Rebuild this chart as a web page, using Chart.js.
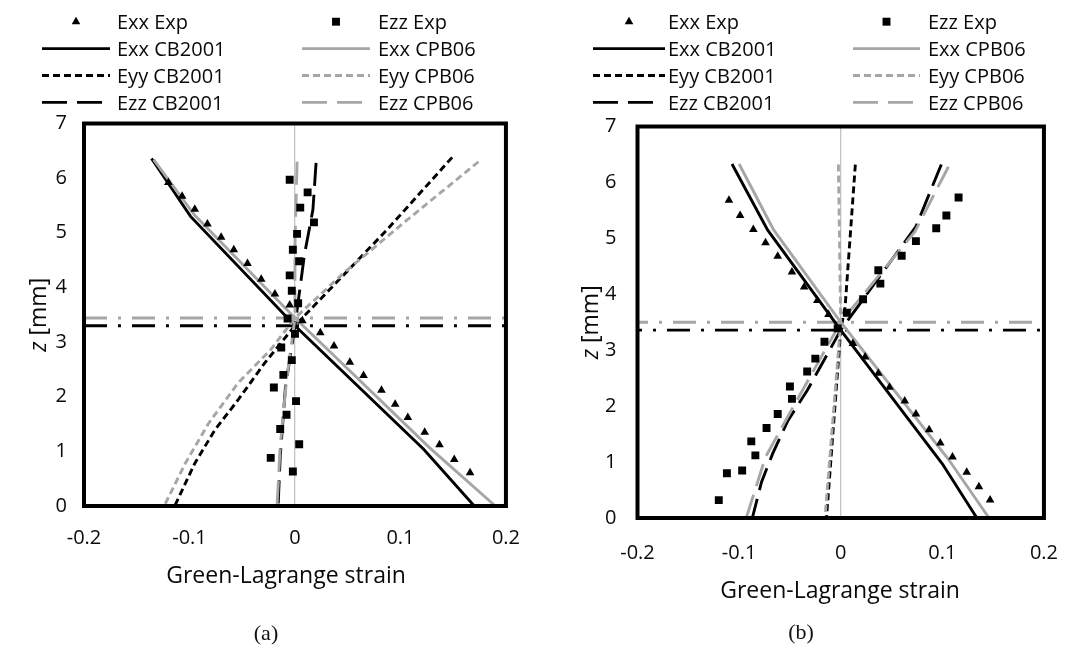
<!DOCTYPE html>
<html>
<head>
<meta charset="utf-8">
<script src="https://cdn.jsdelivr.net/npm/chart.js@4/dist/chart.umd.min.js"></script>
<style>
  html, body { margin: 0; padding: 0; background: #fff; }
  body { width: 1081px; height: 648px; position: relative; overflow: hidden; }
  canvas { position: absolute; top: 0; }
  #ca { left: 0; }
  #cb { left: 540px; }
  .cap { position: absolute; font-family: "Liberation Serif", serif; font-size: 22px; color: #111;
         transform: translate(-50%, -50%); white-space: nowrap; }
</style>
</head>
<body>
<canvas id="ca" width="540" height="648"></canvas>
<canvas id="cb" width="541" height="648"></canvas>
<div class="cap" style="left:266px; top:633px;">(a)</div>
<div class="cap" style="left:801px; top:632px;">(b)</div>
<script>
// ---- axis ticks and series names ----
const strainTicks = [-0.2, -0.1, 0, 0.1, 0.2];
const strainTickLabels = ['-0.2', '-0.1', '0', '0.1', '0.2'];
const depthTicks = [0, 1, 2, 3, 4, 5, 6, 7];
const seriesLabels = ['Exx Exp', 'Ezz Exp', 'Exx CB2001', 'Exx CPB06',
                      'Eyy CB2001', 'Eyy CPB06', 'Ezz CB2001', 'Ezz CPB06'];

// ---- panel (a): [strain, z in mm] ----
const aExxExp = [[-0.120,5.92],[-0.107,5.67],[-0.095,5.43],[-0.083,5.16],[-0.070,4.92],[-0.058,4.69],
  [-0.045,4.44],[-0.032,4.15],[-0.019,3.88],[-0.005,3.68],[0.007,3.39],[0.024,3.17],[0.037,2.93],
  [0.052,2.63],[0.065,2.39],[0.082,2.12],[0.095,1.86],[0.107,1.62],[0.123,1.35],[0.137,1.12],
  [0.151,0.85],[0.166,0.61]];
const aEzzExp = [[-0.005,5.97],[0.012,5.74],[0.005,5.46],[0.018,5.19],[0.002,4.98],[-0.002,4.69],
  [0.004,4.48],[-0.005,4.22],[-0.003,3.94],[0.003,3.71],[-0.007,3.43],[0.000,3.15],[-0.013,2.90],
  [-0.003,2.67],[-0.011,2.40],[-0.020,2.17],[0.001,1.92],[-0.008,1.67],[-0.014,1.41],[0.004,1.13],
  [-0.023,0.88],[-0.002,0.63]];
const aExxCB = [[-0.136,6.36],[-0.099,5.30],[0.000,3.30],[0.122,1.04],[0.170,0.00]];
const aExxCPB = [[-0.134,6.34],[-0.095,5.32],[0.000,3.44],[0.128,1.06],[0.190,0.00]];
const aEyyCB = [[0.149,6.38],[0.087,5.05],[0.000,3.30],[-0.029,2.61],[-0.054,1.94],[-0.076,1.39],
  [-0.095,0.78],[-0.114,0.00]];
const aEyyCPB = [[0.174,6.30],[0.106,5.23],[0.046,4.26],[0.000,3.44],[-0.023,2.86],[-0.054,2.25],
  [-0.082,1.51],[-0.104,0.78],[-0.124,0.00]];
const aEzzCB = [[0.020,6.28],[0.017,5.42],[0.009,4.60],[0.000,3.30],[-0.009,2.18],[-0.014,0.90],[-0.016,0.00]];
const aEzzCPB = [[0.002,6.30],[0.000,4.80],[0.000,3.44],[-0.008,2.30],[-0.014,1.10],[-0.017,0.00]];
const aNeutralAxis = [3.30, 3.44];   // CB2001, CPB06

// ---- panel (b) ----
const bExxExp = [[-0.110,5.68],[-0.099,5.41],[-0.086,5.16],[-0.074,4.92],[-0.062,4.68],[-0.048,4.40],
  [-0.036,4.13],[-0.023,3.89],[-0.012,3.64],[0.012,3.12],[0.024,2.88],[0.037,2.59],[0.048,2.34],
  [0.063,2.09],[0.074,1.86],[0.087,1.58],[0.098,1.34],[0.110,1.09],[0.124,0.82],[0.136,0.56],[0.147,0.32]];
const bEzzExp = [[0.116,5.73],[0.104,5.41],[0.094,5.18],[0.074,4.95],[0.060,4.69],[0.037,4.43],
  [0.039,4.19],[0.022,3.91],[0.006,3.67],[-0.003,3.39],[-0.016,3.15],[-0.025,2.85],[-0.033,2.62],
  [-0.050,2.35],[-0.048,2.13],[-0.062,1.86],[-0.073,1.61],[-0.088,1.37],[-0.084,1.12],[-0.097,0.85],
  [-0.112,0.80],[-0.120,0.32]];
const bExxCB = [[-0.107,6.33],[-0.072,5.15],[0.000,3.36],[0.100,0.97],[0.134,0.00]];
const bExxCPB = [[-0.100,6.33],[-0.066,5.15],[0.000,3.50],[0.106,1.05],[0.146,0.00]];
const bEyyCB = [[0.0144,6.32],[0.0043,3.77],[0.000,3.36],[-0.014,0.00]];
const bEyyCPB = [[-0.0023,6.32],[0.000,3.50],[-0.0155,0.00]];
const bEzzCB = [[0.099,6.32],[0.074,5.21],[0.000,3.36],[-0.033,2.28],[-0.052,1.74],[-0.067,1.15],
  [-0.078,0.64],[-0.087,0.00]];
const bEzzCPB = [[0.106,6.28],[0.073,5.12],[0.000,3.50],[-0.047,1.98],[-0.074,1.09],[-0.093,0.00]];
const bNeutralAxis = [3.36, 3.50];

// ---- styling ----
const FONT = '"Open Sans", sans-serif';
const INK = '#0a0a0a';
const BLACK = '#000';
const GRAY = '#a6a6a6';
const SHORT_DASH = [7, 4];
const LONG_DASH = [23, 9];
const LEGEND_LONG_DASH = [25, 10];
const DASH_DOT = [23, 11, 3, 11];
const LW = 2.9;
const CANVAS_H = 648;

const toPts = arr => arr.map(([x, y]) => ({ x, y }));

function markerSet(label, pts, style, r) {
  return { label, data: toPts(pts), showLine: false, pointStyle: style, pointRadius: r,
    pointBackgroundColor: BLACK, pointBorderColor: BLACK, pointBorderWidth: 0, order: 0 };
}
function lineSet(label, pts, color, dash) {
  return { label, data: toPts(pts), showLine: true, borderColor: color, borderWidth: LW,
    borderDash: dash, pointRadius: 0, fill: false, tension: 0, order: color === GRAY ? 1 : 2 };
}
function neutralSet(z, color, dashOffset) {
  return { label: '', legendHidden: true,
    data: [{ x: strainTicks[0], y: z }, { x: strainTicks[strainTicks.length - 1], y: z }],
    showLine: true, borderColor: color, borderWidth: LW, borderDash: DASH_DOT,
    borderDashOffset: dashOffset, pointRadius: 0, fill: false, order: 3 };
}

function panelDatasets(p) {
  return [
    markerSet(seriesLabels[0], p.exxExp, 'triangle', 5.0),
    markerSet(seriesLabels[1], p.ezzExp, 'rect', 5.6),
    lineSet(seriesLabels[2], p.exxCB, BLACK, []),
    lineSet(seriesLabels[3], p.exxCPB, GRAY, []),
    lineSet(seriesLabels[4], p.eyyCB, BLACK, SHORT_DASH),
    lineSet(seriesLabels[5], p.eyyCPB, GRAY, SHORT_DASH),
    lineSet(seriesLabels[6], p.ezzCB, BLACK, LONG_DASH),
    lineSet(seriesLabels[7], p.ezzCPB, GRAY, LONG_DASH),
    neutralSet(p.neutral[0], BLACK, p.dashOffset[0]),
    neutralSet(p.neutral[1], GRAY, p.dashOffset[1])
  ];
}

function drawMarker(ctx, style, x, y, r) {
  ctx.beginPath();
  if (style === 'triangle') {
    ctx.moveTo(x, y - r);
    ctx.lineTo(x + r * Math.sin(2 * Math.PI / 3), y - r * Math.cos(2 * Math.PI / 3));
    ctx.lineTo(x + r * Math.sin(4 * Math.PI / 3), y - r * Math.cos(4 * Math.PI / 3));
  } else {
    const s = r * Math.SQRT1_2;
    ctx.rect(x - s, y - s, 2 * s, 2 * s);
  }
  ctx.closePath();
  ctx.fillStyle = BLACK;
  ctx.fill();
}

// frame, two-column legend and axis titles
const panelDecor = {
  id: 'panelDecor',
  afterDraw(chart, args, o) {
    const { ctx, chartArea: a } = chart;
    ctx.save();
    ctx.lineWidth = 4;
    ctx.strokeStyle = BLACK;
    ctx.setLineDash([]);
    ctx.strokeRect(a.left, a.top, a.right - a.left, a.bottom - a.top);

    // legend
    const L = o.legend;
    ctx.font = L.size + 'px ' + FONT;
    ctx.textBaseline = 'alphabetic';
    ctx.textAlign = 'left';
    chart.data.datasets.filter(d => !d.legendHidden).forEach((d, i) => {
      const col = i % 2, row = Math.floor(i / 2);
      const y = L.top + row * L.gap;
      let [x1, x2] = L.symbol[col];
      if (d.showLine) {
        let dash = d.borderDash || [];
        if (d.borderDash === LONG_DASH) {
          // two whole long dashes
          dash = LEGEND_LONG_DASH;
          x2 = x1 + 2 * dash[0] + dash[1];
        }
        ctx.setLineDash(dash);
        ctx.lineDashOffset = 0;
        ctx.strokeStyle = d.borderColor;
        ctx.lineWidth = d.borderWidth;
        ctx.beginPath();
        ctx.moveTo(x1, y);
        ctx.lineTo(x2, y);
        ctx.stroke();
        ctx.setLineDash([]);
      } else {
        drawMarker(ctx, d.pointStyle, (x1 + x2) / 2, y, d.pointRadius);
      }
      ctx.fillStyle = INK;
      ctx.fillText(d.label, L.textX[col], y + L.size * 0.357);
    });

    // x title
    ctx.font = o.titleSize + 'px ' + FONT;
    ctx.textAlign = 'center';
    ctx.fillStyle = INK;
    ctx.fillText('Green-Lagrange strain', o.xTitle[0], o.xTitle[1]);

    // y title: italic z followed by the unit
    const cy = (a.top + a.bottom) / 2;
    const italic = 'italic ' + o.titleSize + 'px ' + FONT;
    const upright = o.titleSize + 'px ' + FONT;
    ctx.font = italic;
    const wz = ctx.measureText('z').width;
    ctx.font = upright;
    const wu = ctx.measureText(' [mm]').width;
    ctx.translate(o.yTitleX, cy);
    ctx.rotate(-Math.PI / 2);
    ctx.textAlign = 'left';
    const start = -(wz + wu) / 2;
    ctx.font = italic;
    ctx.fillText('z', start, 0);
    ctx.font = upright;
    ctx.fillText(' [mm]', start + wz, 0);
    ctx.restore();
  }
};

function makeChart(id, p, g) {
  return new Chart(document.getElementById(id), {
    type: 'scatter',
    data: { datasets: panelDatasets(p) },
    options: {
      responsive: false,
      animation: false,
      events: [],
      layout: { padding: { top: g.top, right: g.W - g.right, bottom: 0, left: 0 } },
      plugins: {
        legend: { display: false },
        tooltip: { enabled: false },
        panelDecor: g.decor
      },
      scales: {
        x: {
          type: 'linear', min: strainTicks[0], max: strainTicks[strainTicks.length - 1],
          afterBuildTicks: s => { s.ticks = strainTicks.map(v => ({ value: v })); },
          afterFit: s => { s.height = CANVAS_H - g.bottom; },
          ticks: { callback: (v, i) => strainTickLabels[i], padding: g.xPad, color: INK,
                   font: { family: FONT, size: 20 }, maxRotation: 0, autoSkip: false },
          grid: { drawTicks: false, tickLength: 0, lineWidth: 1.3,
                  color: c => (c.tick && c.tick.value === 0) ? '#c4c4c4' : 'rgba(0,0,0,0)' },
          border: { display: false }
        },
        y: {
          type: 'linear', min: depthTicks[0], max: depthTicks[depthTicks.length - 1],
          afterBuildTicks: s => { s.ticks = depthTicks.map(v => ({ value: v })); },
          afterFit: s => { s.width = g.left; },
          ticks: { callback: v => String(v), padding: g.yPad, color: INK,
                   font: { family: FONT, size: 20 }, autoSkip: false },
          grid: { display: false, drawTicks: false, tickLength: 0 },
          border: { display: false }
        }
      }
    },
    plugins: [panelDecor]
  });
}

makeChart('ca', {
  exxExp: aExxExp, ezzExp: aEzzExp, exxCB: aExxCB, exxCPB: aExxCPB,
  eyyCB: aEyyCB, eyyCPB: aEyyCPB, ezzCB: aEzzCB, ezzCPB: aEzzCPB,
  neutral: aNeutralAxis, dashOffset: [0, 0]
}, {
  W: 540, left: 84, right: 511, top: 123.5, bottom: 506, xPad: 20, yPad: 17,
  decor: {
    legend: { top: 21.7, gap: 26.9, size: 20, symbol: [[42, 110], [302, 370]], textX: [117, 378] },
    titleSize: 23, xTitle: [286, 583], yTitleX: 46
  }
});

makeChart('cb', {
  exxExp: bExxExp, ezzExp: bEzzExp, exxCB: bExxCB, exxCPB: bExxCPB,
  eyyCB: bEyyCB, eyyCPB: bEyyCPB, ezzCB: bEzzCB, ezzCPB: bEzzCPB,
  neutral: bNeutralAxis, dashOffset: [18.5, 12.5]
}, {
  W: 541, left: 97.5, right: 522.5, top: 126.5, bottom: 518, xPad: 23, yPad: 21,
  decor: {
    legend: { top: 21.7, gap: 26.9, size: 20, symbol: [[53, 125], [313, 380]], textX: [128, 388] },
    titleSize: 23, xTitle: [300, 598], yTitleX: 58
  }
});
</script>
</body>
</html>
